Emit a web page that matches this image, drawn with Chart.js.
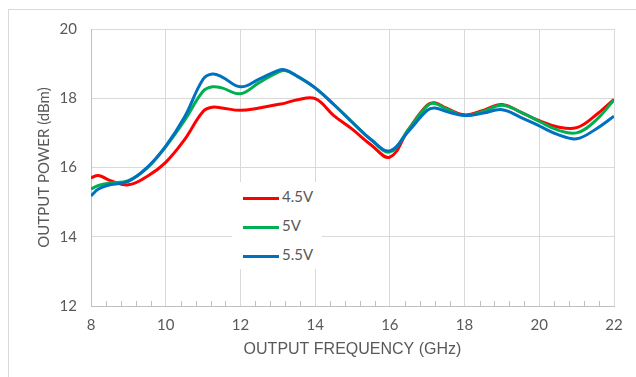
<!DOCTYPE html>
<html>
<head>
<meta charset="utf-8">
<script src="https://cdn.jsdelivr.net/npm/chart.js@4.4.1/dist/chart.umd.min.js"></script>
<style>
body{margin:0;background:#fff;}
#wrap{position:relative;width:636px;height:377px;overflow:hidden;}
#frame{position:absolute;left:8px;top:9px;width:700px;height:400px;border:1px solid #d9d9d9;}
#cv{position:absolute;left:0;top:0;}
#legend{position:absolute;left:232px;top:182px;width:90px;height:87px;background:#fff;font:15px Lato;color:#595959;}
#legend .row{position:absolute;left:11px;height:20px;line-height:20px;white-space:nowrap;}
#legend .sw{display:inline-block;width:36px;height:3px;vertical-align:middle;margin-right:3px;}
</style>
</head>
<body>
<div id="wrap">
  <div id="frame"></div>
  <canvas id="cv" width="636" height="377"></canvas>
  <div id="legend"></div>
</div>
<script>
var freq = [8, 8.2, 8.5, 9, 9.5, 10, 10.5, 11, 11.25, 11.5, 12, 12.5, 13, 13.2, 13.5, 14, 14.5, 15, 15.5, 16, 16.5, 17, 17.2, 17.5, 18, 18.5, 19, 19.5, 20, 20.5, 21, 21.5, 22];
var pow45 = [15.70, 15.77, 15.63, 15.50, 15.74, 16.15, 16.80, 17.62, 17.74, 17.72, 17.65, 17.72, 17.82, 17.86, 17.95, 17.99, 17.50, 17.10, 16.65, 16.30, 17.10, 17.80, 17.87, 17.72, 17.52, 17.65, 17.82, 17.60, 17.35, 17.17, 17.15, 17.50, 17.97];
var pow50 = [15.38, 15.48, 15.55, 15.62, 15.98, 16.60, 17.35, 18.20, 18.33, 18.30, 18.13, 18.45, 18.75, 18.80, 18.65, 18.30, 17.82, 17.30, 16.80, 16.45, 17.10, 17.78, 17.85, 17.70, 17.50, 17.62, 17.80, 17.60, 17.33, 17.08, 17.00, 17.35, 17.95];
var pow55 = [15.18, 15.38, 15.50, 15.60, 16.00, 16.62, 17.45, 18.55, 18.70, 18.62, 18.33, 18.55, 18.80, 18.82, 18.65, 18.30, 17.82, 17.30, 16.80, 16.48, 17.05, 17.65, 17.72, 17.62, 17.50, 17.57, 17.67, 17.45, 17.20, 16.95, 16.83, 17.10, 17.48];
var seriesNames = ["4.5V", "5V", "5.5V"];
var seriesColors = ["#ff0000", "#00b050", "#0070c0"];
var xTicks = [8, 10, 12, 14, 16, 18, 20, 22];
var yTicks = [12, 14, 16, 18, 20];

function pts(ys){
    return ys.map(function(v, i){ return {x: freq[i], y: v}; });
}

var allSeries = [pow45, pow50, pow55];
var datasets = allSeries.map(function(s, i){
    return {
        label: seriesNames[i],
        data: pts(s),
        borderColor: seriesColors[i],
        backgroundColor: seriesColors[i],
        borderWidth: 3,
        pointRadius: 0,
        fill: false,
        tension: 0.4,
        order: 2 - i
    };
});

// small inside ticks on the x axis, every 0.4 GHz
var minorTicks = {
    id: 'minorTicks',
    beforeDatasetsDraw: function(chart){
        var xs = chart.scales.x, ys = chart.scales.y, ctx = chart.ctx;
        ctx.save();
        ctx.strokeStyle = '#bfbfbf';
        ctx.lineWidth = 1;
        ctx.beginPath();
        for (var i = 1; i < 35; i++) {
            if (i % 5 === 0) continue;
            var px = Math.round(xs.getPixelForValue(8 + i * 0.4)) + 0.5;
            ctx.moveTo(px, ys.bottom);
            ctx.lineTo(px, ys.bottom - 5);
        }
        ctx.stroke();
        ctx.restore();
    }
};

var ctx = document.getElementById("cv").getContext("2d");
var chart = new Chart(ctx, {
    type: 'line',
    data: {datasets: datasets},
    plugins: [minorTicks],
    options: {
        responsive: false,
        animation: false,
        layout: {padding: {top: 29, right: 22, left: 0, bottom: 0}},
        plugins: {legend: {display: false}, tooltip: {enabled: false}},
        scales: {
            x: {
                type: 'linear', min: 8, max: 22,
                afterBuildTicks: function(s){ s.ticks = xTicks.map(function(v){ return {value: v}; }); },
                afterFit: function(s){ s.height = 71; },
                grid: {color: '#d9d9d9', drawTicks: false},
                border: {color: '#bfbfbf'},
                ticks: {padding: 10, color: '#595959', font: {family: 'Lato', size: 15}},
                title: {display: true, text: 'OUTPUT FREQUENCY (GHz)', color: '#595959',
                        font: {family: 'Liberation Sans', size: 16}, padding: {top: 0, bottom: 18}}
            },
            y: {
                min: 12, max: 20,
                afterBuildTicks: function(s){ s.ticks = yTicks.map(function(v){ return {value: v}; }); },
                afterFit: function(s){ s.width = 91; },
                grid: {color: '#d9d9d9', drawTicks: false},
                border: {color: '#bfbfbf'},
                ticks: {padding: 14, color: '#595959', font: {family: 'Lato', size: 15}},
                title: {display: true, text: 'OUTPUT POWER (dBm)', color: '#595959',
                        font: {family: 'Lato', size: 15}, padding: {top: 35, bottom: 0}}
            }
        }
    }
});

var leg = document.getElementById("legend");
chart.data.datasets.forEach(function(d, i){
    var row = document.createElement("div");
    row.className = "row";
    row.style.top = (4 + i * 29) + "px";
    row.innerHTML = '<span class="sw" style="background:' + d.borderColor + '"></span>' + d.label;
    leg.appendChild(row);
});
</script>
</body>
</html>
